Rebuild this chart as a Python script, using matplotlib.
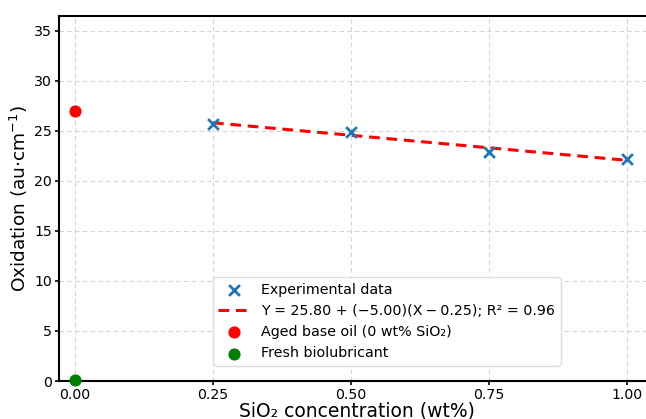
import numpy as np
import matplotlib
matplotlib.use("Agg")
import matplotlib.pyplot as plt

# Oxidation measurements vs SiO2 loading
sio2_wt = [0.25, 0.50, 0.75, 1.00]
oxidation = [25.7, 24.9, 22.9, 22.2]

# Linear fit reported in the legend: Y = a + b (X - x0)
fit_intercept = 25.80
fit_slope = -5.00
fit_x0 = 0.25
fit_r2 = 0.96

# Reference samples
aged_x, aged_y = [0.0], [27.0]
fresh_x, fresh_y = [0.0], [0.14]

xticks = [0.00, 0.25, 0.50, 0.75, 1.00]
yticks = [0, 5, 10, 15, 20, 25, 30, 35]

W, H = 646, 419
fig = plt.figure(figsize=(W / 100, H / 100), dpi=100)
# axes box in pixels: left 59, bottom 381, top 16; right edge runs past the canvas
left_px, right_px, top_px, bot_px = 59, 654.6, 15.7, 381
ax = fig.add_axes([left_px / W, 1 - bot_px / H,
                   (right_px - left_px) / W, (bot_px - top_px) / H])

ax.scatter(sio2_wt, oxidation, marker="x", s=60, linewidths=2.0,
           color="#1f77b4", zorder=3, label="Experimental data")

xf = np.array([sio2_wt[0], sio2_wt[-1]])
yf = fit_intercept + fit_slope * (xf - fit_x0)
ax.plot(xf, yf, "--", color="red", lw=2.2, dashes=(3.5, 2.2), zorder=2,
        label=f"Y = {fit_intercept:.2f} + (\u2212{abs(fit_slope):.2f})(X\u2009\u2212\u20090.25); R\u00b2 = {fit_r2:.2f}")

ax.scatter(aged_x, aged_y, s=60, color="red", zorder=3,
           label="Aged base oil (0 wt% SiO\u2082)")
ax.scatter(fresh_x, fresh_y, s=60, color="green", zorder=3,
           label="Fresh biolubricant", clip_on=False)

ax.set_xlim(-0.029, 1.05)
ax.set_ylim(0, 36.5)
ax.set_xticks(xticks)
ax.set_yticks(yticks)
ax.tick_params(labelsize=10.2, width=1.2, length=3, pad=2)
ax.grid(True, linestyle=(0, (4, 3)), color="#d5d5d5", lw=0.8)
ax.set_axisbelow(True)
for sp in ax.spines.values():
    sp.set_linewidth(1.5)

ax.set_xlabel("SiO\u2082 concentration (wt%)", fontsize=13.5, labelpad=0)
ax.set_ylabel("Oxidation (au\u00b7cm$^{-1}$)", fontsize=13.3, labelpad=3)

ax.legend(loc="lower left", bbox_to_anchor=(0.258, 0.041), borderaxespad=0,
          fontsize=10.3, framealpha=1, edgecolor="#dddddd",
          handlelength=2.2, handletextpad=0.8)

fig.savefig("out.png", dpi=100)
